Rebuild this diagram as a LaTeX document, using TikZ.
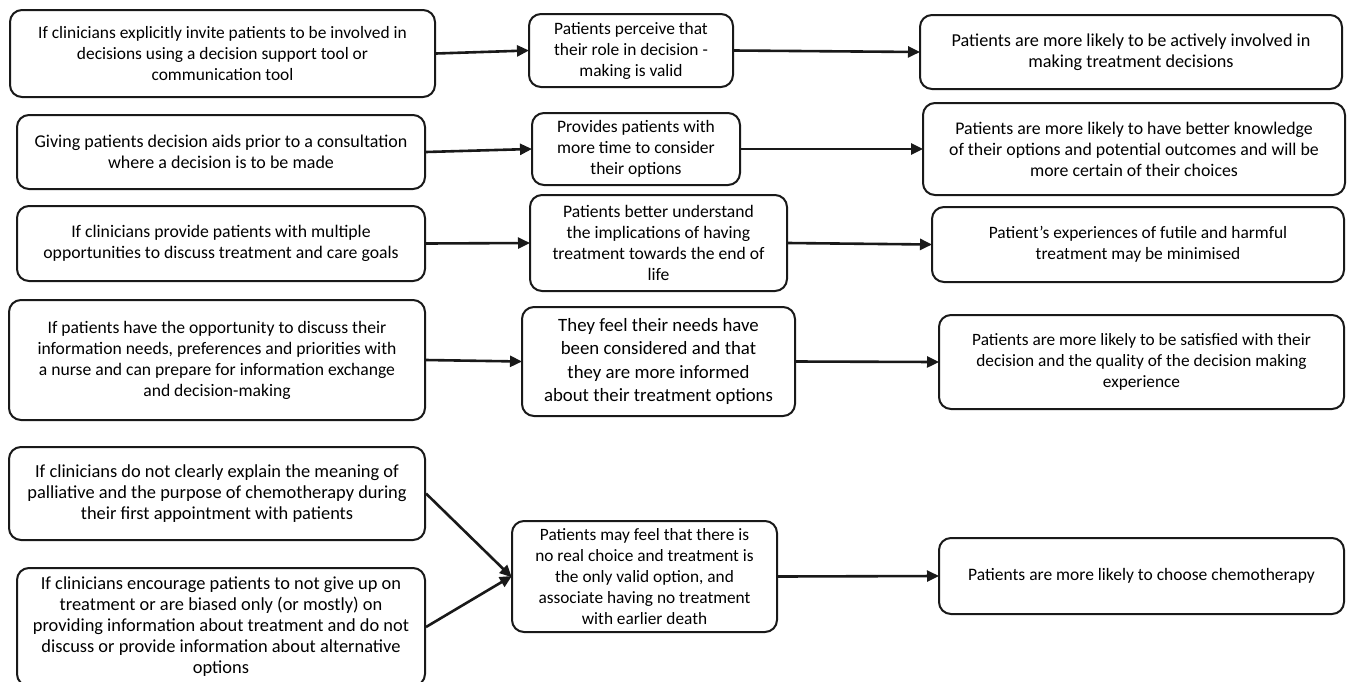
\documentclass[tikz,border=0pt]{standalone}
\usepackage{fontspec}
\setmainfont{Carlito}
\usetikzlibrary{arrows.meta}
\tikzset{
  bx/.style={draw=black!90, line width=2pt, rounded corners=12pt, align=center, inner sep=0pt, fill=white},
  fs/.style={font=\fontsize{#1}{21}\selectfont},
  arr/.style={line width=2.6pt, draw=black!90, -{Triangle[length=12pt,width=11pt]}, shorten >=-1pt},
}
\begin{document}
\begin{tikzpicture}[x=1pt,y=-1pt]
\useasboundingbox (0,0) rectangle (1354,681);
% row 1
\node[bx, fs=17.4, minimum width=425, minimum height=87] (a1) at (222.5,53.5) {If clinicians explicitly invite patients to be involved in\\decisions using a decision support tool or\\communication tool};
\node[bx, fs=17.4, minimum width=204, minimum height=73] (b1) at (631,50.5) {Patients perceive that\\their role in decision -\\making is valid};
\node[bx, fs=18.2, minimum width=422, minimum height=74] (c1) at (1131,52) {Patients are more likely to be actively involved in\\making treatment decisions};
% row 2
\node[bx, fs=18, minimum width=408, minimum height=74] (a2) at (221,152) {Giving patients decision aids prior to a consultation\\where a decision is to be made};
\node[bx, fs=17.5, minimum width=208, minimum height=72] (b2) at (636,149) {Provides patients with\\more time to consider\\their options};
\node[bx, fs=17.8, minimum width=422, minimum height=92] (c2) at (1134,149) {Patients are more likely to have better knowledge\\of their options and potential outcomes and will be\\more certain of their choices};
% row 3
\node[bx, fs=17.7, minimum width=408, minimum height=75] (a3) at (221,243.5) {If clinicians provide patients with multiple\\opportunities to discuss treatment and care goals};
\node[bx, fs=17.6, minimum width=257, minimum height=96] (b3) at (658.5,243) {Patients better understand\\the implications of having\\treatment towards the end of\\life};
\node[bx, fs=17.4, minimum width=412, minimum height=75] (c3) at (1138,244.5) {Patient’s experiences of futile and harmful\\treatment may be minimised};
% row 4
\node[bx, fs=17.6, minimum width=416, minimum height=120] (a4) at (217,360) {If patients have the opportunity to discuss their\\information needs, preferences and priorities with\\a nurse and can prepare for information exchange\\and decision-making};
\node[bx, font=\fontsize{18.8}{23.5}\selectfont, minimum width=273, minimum height=109] (b4) at (658.5,361.5) {They feel their needs have\\been considered and that\\they are more informed\\about their treatment options};
\node[bx, fs=17.3, minimum width=405, minimum height=94] (c4) at (1141.5,362) {Patients are more likely to be satisfied with their\\decision and the quality of the decision making\\experience};
% row 5
\node[bx, fs=18.4, minimum width=416, minimum height=93] (a5) at (217,493.5) {If clinicians do not clearly explain the meaning of\\palliative and the purpose of chemotherapy during\\their first appointment with patients};
\node[bx, fs=18.4, minimum width=408, minimum height=118] (a6) at (221,627) {If clinicians encourage patients to not give up on\\treatment or are biased only (or mostly) on\\providing information about treatment and do not\\discuss or provide information about alternative\\options};
\node[bx, fs=17.3, minimum width=265, minimum height=111] (b5) at (644.5,576.5) {Patients may feel that there is\\no real choice and treatment is\\the only valid option, and\\associate having no treatment\\with earlier death};
\node[bx, fs=17.5, minimum width=405, minimum height=76] (c5) at (1141.5,576) {Patients are more likely to choose chemotherapy};
% arrows
\draw[arr] (a1.east) -- (b1.west);
\draw[arr] (b1.east) -- (c1.west);
\draw[arr] (a2.east) -- (b2.west);
\draw[arr] (b2.east) -- (c2.west);
\draw[arr] (a3.east) -- (b3.west);
\draw[arr] (b3.east) -- (c3.west);
\draw[arr] (a4.east) -- (b4.west);
\draw[arr] (b4.east) -- (c4.west);
\draw[arr] (a5.east) -- (b5.west);
\draw[arr] (a6.east) -- (b5.west);
\draw[arr] (b5.east) -- (c5.west);
\end{tikzpicture}
\end{document}
